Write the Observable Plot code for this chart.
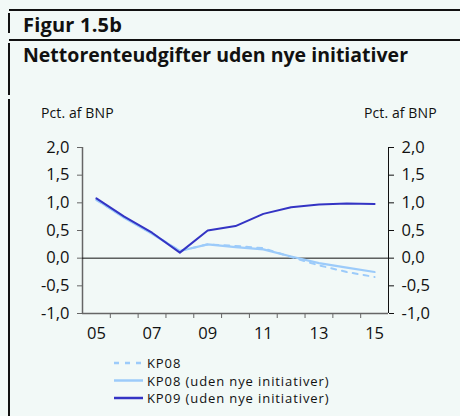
<!DOCTYPE html>
<html>
<head>
<meta charset="utf-8">
<script src="https://cdn.jsdelivr.net/npm/d3@7"></script>
<script src="https://cdn.jsdelivr.net/npm/@observablehq/plot@0.6"></script>
<style>
  html, body { margin: 0; padding: 0; background: #f2f9f7; }
  #wrap { position: relative; width: 460px; height: 416px; overflow: hidden; background: #f2f9f7; font-family: "Open Sans", sans-serif; color: #111; }
  .abs { position: absolute; white-space: nowrap; }
  .hl { position: absolute; background: #111; height: 2px; }
  .vl { position: absolute; background: #111; width: 1.5px; }
  #chart { position: absolute; left: 0; top: 0; }
</style>
</head>
<body>
<div id="wrap">
  <div class="hl" style="left:9px; top:9px; width:451px;"></div>
  <div class="hl" style="left:9px; top:39px; width:451px;"></div>
  <div class="vl" style="left:8px; top:13px; height:20px;"></div>
  <div class="vl" style="left:8px; top:43px; height:52px;"></div>
  <div class="vl" style="left:8px; top:99px; height:317px;"></div>
  <div class="abs" style="left:23px; top:13px; font-size:20px; font-weight:700; line-height:24px; letter-spacing:0.2px;">Figur 1.5b</div>
  <div class="abs" style="left:23px; top:42px; font-size:19.5px; font-weight:700; line-height:26px;">Nettorenteudgifter uden nye initiativer</div>
  <div class="abs" style="left:41px; top:104px; font-size:14px; line-height:18px; letter-spacing:0.1px;">Pct. af BNP</div>
  <div class="abs" style="left:364px; top:104px; font-size:14px; line-height:18px; letter-spacing:0.1px;">Pct. af BNP</div>
  <div id="chart"></div>
  <div id="legend" class="abs" style="left:114px; top:354px;"></div>
</div>
<script>
const years = [2005, 2006, 2007, 2008, 2009, 2010, 2011, 2012, 2013, 2014, 2015];
const kp08 = [1.05, 0.74, 0.45, 0.13, 0.25, 0.22, 0.18, 0.02, -0.13, -0.25, -0.34];
const kp08Uden = [1.06, 0.73, 0.44, 0.13, 0.25, 0.20, 0.16, 0.03, -0.09, -0.17, -0.25];
const kp09Uden = [1.08, 0.75, 0.46, 0.10, 0.50, 0.58, 0.80, 0.92, 0.97, 0.99, 0.98];
const seriesNames = ["KP08", "KP08 (uden nye initiativer)", "KP09 (uden nye initiativer)"];
const yTicks = [-1, -0.5, 0, 0.5, 1, 1.5, 2];
const xTickLabels = ["05", "07", "09", "11", "13", "15"];
const xLabelYears = [2005, 2007, 2009, 2011, 2013, 2015];

const colors = ["#9ccbfa", "#9ccbfa", "#3434c4"];
const dashes = ["5,6", null, null];

const rows = [];
[kp08, kp08Uden, kp09Uden].forEach((vals, i) => {
  vals.forEach((v, j) => rows.push({series: seriesNames[i], year: years[j], value: v}));
});
const boundaries = years.slice(0, -1).map(y => y + 0.5);
const fmt = d => d.toFixed(1).replace(".", ",");
const font = "Open Sans, sans-serif";

const chart = Plot.plot({
  width: 460,
  height: 416,
  marginLeft: 82,
  marginRight: 72,
  marginTop: 147,
  marginBottom: 103,
  style: {background: "transparent", fontFamily: font, color: "#111"},
  x: {domain: [2004.5, 2015.5]},
  y: {domain: [-1, 2]},
  marks: [
    Plot.axisY({anchor: "left", ticks: yTicks, tickFormat: fmt, tickSize: 5, tickPadding: 8, fontSize: 16.5, label: null, stroke: "#666", color: "#111"}),
    Plot.axisY({anchor: "right", ticks: yTicks, tickFormat: fmt, tickSize: 5, tickPadding: 8, fontSize: 16.5, label: null, stroke: "#111"}),
    Plot.axisX({ticks: boundaries, tickFormat: () => "", tickSize: 5, label: null, stroke: "#666"}),
    Plot.axisX({ticks: xLabelYears, tickFormat: (d) => xTickLabels[xLabelYears.indexOf(d)], tickSize: 0, tickPadding: 14, fontSize: 16.5, label: null}),
    Plot.ruleX([2004.5], {stroke: "#666", strokeWidth: 1.5}),
    Plot.ruleY([-1], {stroke: "#666", strokeWidth: 1.5}),
    Plot.ruleX([2015.5], {stroke: "#111", strokeWidth: 1}),
    Plot.ruleY([0], {stroke: "#111", strokeWidth: 1}),
    Plot.lineY(rows.filter(d => d.series === seriesNames[0]), {x: "year", y: "value", stroke: colors[0], strokeWidth: 2, strokeDasharray: dashes[0]}),
    Plot.lineY(rows.filter(d => d.series === seriesNames[1]), {x: "year", y: "value", stroke: colors[1], strokeWidth: 2.2}),
    Plot.lineY(rows.filter(d => d.series === seriesNames[2]), {x: "year", y: "value", stroke: colors[2], strokeWidth: 2})
  ]
});
document.getElementById("chart").appendChild(chart);

// Legend
const lg = d3.select("#legend").append("svg").attr("width", 260).attr("height", 58);
seriesNames.forEach((name, i) => {
  const y = 9 + i * 17.5;
  lg.append("line").attr("x1", 0).attr("x2", 29).attr("y1", y).attr("y2", y)
    .attr("stroke", colors[i]).attr("stroke-width", 2.5)
    .attr("stroke-dasharray", dashes[i]);
  lg.append("text").attr("x", 33).attr("y", y + 5).attr("font-size", 13)
    .attr("letter-spacing", "0.9px")
    .attr("font-family", font).attr("fill", "#111").text(name);
});
</script>
</body>
</html>
